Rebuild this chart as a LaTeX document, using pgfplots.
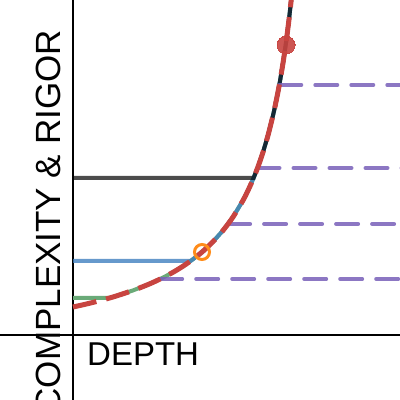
\documentclass[border=0pt]{standalone}
\usepackage{pgfplots}
\pgfplotsset{compat=1.18}
\usepackage{fontspec}
\newfontfamily\arialf{Liberation Sans}
\definecolor{cgreen}{RGB}{106,170,120}
\definecolor{cblue}{RGB}{64,128,191}
\definecolor{cpurple}{RGB}{120,95,185}
\definecolor{cred}{RGB}{200,68,64}
\definecolor{corange}{RGB}{255,140,26}
\begin{document}
\begin{tikzpicture}
\path[use as bounding box, clip] (0,0) rectangle (400pt,400pt);
\begin{axis}[
  at={(0,0)}, anchor=south west,
  scale only axis, width=400pt, height=400pt,
  xmin=-73, xmax=327, ymin=-65, ymax=335,
  axis lines*=middle, ticks=none,
  axis line style={line width=2.5pt, black},
  clip=true,
]
% green
\addplot[cgreen, line width=4pt] coordinates {(0,37)(37.2,37)(40,38.0)(50,41.2)(60,44.6)(70,48.4)(80,52.6)(90,57.4)(100,62.7)(110,68.8)(120,75.8)(130,83.8)(140,93.3)(150,104.5)(160,118.0)(170,134.6)(175,144.5)(180,155.6)(185,168.2)(190,182.8)(195,199.6)(200,219.5)(202,228.4)(205,243.2)(207,253.9)(210,271.9)(213,292.2)(216,315.5)(219,342.5)(222,374.2)};
% blue
\addplot[cblue, opacity=0.8, line width=4pt] coordinates {(0,74)(117.6,74)(120,75.8)(130,83.8)(140,93.3)(150,104.5)(160,118.0)(170,134.6)(175,144.5)(180,155.6)(185,168.2)(190,182.8)(195,199.6)(200,219.5)(202,228.4)(205,243.2)(207,253.9)(210,271.9)(213,292.2)(216,315.5)(219,342.5)(222,374.2)};
% black
\addplot[black, opacity=0.7, line width=4pt] coordinates {(0,157)(180.6,157)(185,168.2)(190,182.8)(195,199.6)(200,219.5)(202,228.4)(205,243.2)(207,253.9)(210,271.9)(213,292.2)(216,315.5)(219,342.5)(222,374.2)};
% purple dashed levels
\addplot[cpurple, opacity=0.85, line width=4pt, line cap=round, dash pattern=on 22pt off 14pt] coordinates {(206.3,250)(340,250)};
\addplot[cpurple, opacity=0.85, line width=4pt, line cap=round, dash pattern=on 22pt off 14pt] coordinates {(184.5,167)(340,167)};
\addplot[cpurple, opacity=0.85, line width=4pt, line cap=round, dash pattern=on 22pt off 14pt] coordinates {(155.1,111)(340,111)};
\addplot[cpurple, opacity=0.85, line width=4pt, line cap=round, dash pattern=on 22pt off 14pt] coordinates {(87.2,56)(340,56)};
% markers
\addplot[only marks, mark=o, mark size=7.5pt, corange, mark options={line width=3pt, draw=corange}] coordinates {(129,83)};
\addplot[only marks, cred, mark=*, mark size=9pt, mark options={draw=cred, line width=0pt, fill=cred, opacity=0.9}] coordinates {(213,290)};
% red dashed curve
\addplot[cred, line width=5pt, dash pattern=on 24pt off 10pt, smooth] coordinates {(0,28.0)(10,30.2)(20,32.6)(30,35.2)(40,38.0)(50,41.2)(60,44.6)(70,48.4)(80,52.6)(90,57.4)(100,62.7)(110,68.8)(120,75.8)(130,83.8)(140,93.3)(150,104.5)(160,118.0)(170,134.6)(175,144.5)(180,155.6)(185,168.2)(190,182.8)(195,199.6)(200,219.5)(202,228.4)(205,243.2)(207,253.9)(210,271.9)(213,292.2)(216,315.5)(219,342.5)(222,374.2)};
\node[anchor=base west, inner sep=0pt, font=\arialf\fontsize{33}{36}\selectfont] at (axis cs:14,-31) {DEPTH};
\node[anchor=base east, rotate=90, inner sep=0pt, font=\arialf\fontsize{35}{38}\selectfont] at (axis cs:-13,305) {COMPLEXITY \& RIGOR};
\end{axis}
\end{tikzpicture}
\end{document}
